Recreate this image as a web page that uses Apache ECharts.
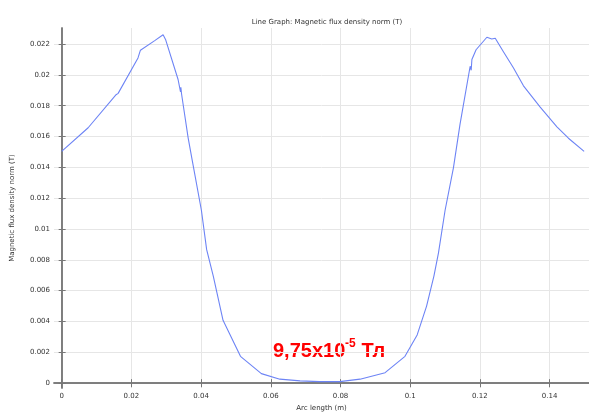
<!DOCTYPE html>
<html>
<head>
<meta charset="utf-8">
<script src="https://cdn.jsdelivr.net/npm/echarts@6/dist/echarts.min.js"></script>
<style>html,body{margin:0;padding:0;background:#fff}#c{width:589px;height:417px}</style>
</head>
<body>
<div id="c"></div>
<script>
const arcLength = [0, 0.0076, 0.0155, 0.0162, 0.0219, 0.0226, 0.0267, 0.0291, 0.0298, 0.0334, 0.0341, 0.0342, 0.0344, 0.0363, 0.0375, 0.0401, 0.0416, 0.0435, 0.0463, 0.0513, 0.0573, 0.0626, 0.0684, 0.0740, 0.0798, 0.0856, 0.0928, 0.0985, 0.1020, 0.1047, 0.1068, 0.1081, 0.1100, 0.1124, 0.1143, 0.1172, 0.1175, 0.1177, 0.1189, 0.1220, 0.1234, 0.1244, 0.1267, 0.1296, 0.1325, 0.1373, 0.1421, 0.1454, 0.1499];
const fluxNorm = [0.01504, 0.01657, 0.01869, 0.0188, 0.0211, 0.0216, 0.02222, 0.0226, 0.0223, 0.0197, 0.0189, 0.0192, 0.01876, 0.0159, 0.0144, 0.0112, 0.00866, 0.00695, 0.00408, 0.00174, 0.00062, 0.00026, 0.00015, 0.0001, 0.0001, 0.00026, 0.00068, 0.00174, 0.00313, 0.0050, 0.00695, 0.00844, 0.0112, 0.01397, 0.0168, 0.02056, 0.0203, 0.0210, 0.02163, 0.02244, 0.02233, 0.02237, 0.02152, 0.02046, 0.01929, 0.01791, 0.01663, 0.01589, 0.01504];
const xTicks = [0, 0.02, 0.04, 0.06, 0.08, 0.1, 0.12, 0.14];
const yTicks = [0, 0.002, 0.004, 0.006, 0.008, 0.01, 0.012, 0.014, 0.016, 0.018, 0.02, 0.022];
const titleText = 'Line Graph: Magnetic flux density norm (T)';
const xName = 'Arc length (m)';
const yName = 'Magnetic flux density norm (T)';

const chart = echarts.init(document.getElementById('c'), null, {renderer: 'canvas'});
const font = 'DejaVu Sans';
const axisLine = {show: true, lineStyle: {color: '#7a7a7a', width: 1.5}};
const xMin = -0.0022, xMax = 0.1513, yMin = -0.00032, yMax = 0.02304;
const splitLine = {show: true, lineStyle: {color: '#e6e6e6', width: 1}};

chart.setOption({
  animation: false,
  backgroundColor: '#fff',
  title: {text: titleText, left: 322, top: 14, textAlign: 'center',
    textStyle: {fontFamily: font, fontSize: 7, fontWeight: 'normal', color: '#333'}},
  grid: {left: 54, top: 28, right: 0, bottom: 23, containLabel: false},
  xAxis: [{
    type: 'value', min: xMin, max: xMax, position: 'bottom',
    name: xName, nameLocation: 'middle', nameGap: 14,
    nameTextStyle: {fontFamily: font, fontSize: 7, color: '#333'},
    axisLine: axisLine,
    axisTick: {show: true, inside: true, length: 4, customValues: xTicks, lineStyle: {color: '#777'}},
    axisLabel: {show: true, customValues: xTicks, fontFamily: font, fontSize: 7, color: '#333', margin: 5},
    splitLine: splitLine
  }, {
    type: 'value', min: xMin, max: xMax, position: 'top',
    axisLine: {show: true, lineStyle: {color: '#777', width: 1.5}},
    axisTick: {show: true, inside: true, length: 4, customValues: xTicks, lineStyle: {color: '#777'}},
    axisLabel: {show: false}, splitLine: {show: false}
  }],
  yAxis: [{
    type: 'value', min: yMin, max: yMax, position: 'left',
    name: yName, nameLocation: 'middle', nameGap: 38, nameRotate: 90,
    nameTextStyle: {fontFamily: font, fontSize: 7, color: '#333'},
    axisLine: axisLine,
    axisTick: {show: true, inside: true, length: 4, customValues: yTicks, lineStyle: {color: '#777'}},
    axisLabel: {show: true, customValues: yTicks, fontFamily: font, fontSize: 7, color: '#333', margin: 4},
    splitLine: splitLine
  }, {
    type: 'value', min: yMin, max: yMax, position: 'right',
    axisLine: {show: true, lineStyle: {color: '#777', width: 1.5}},
    axisTick: {show: true, inside: true, length: 3, customValues: yTicks, lineStyle: {color: '#777'}},
    axisLabel: {show: false}, splitLine: {show: false}
  }],
  series: [{
    type: 'line', xAxisIndex: 0, yAxisIndex: 0,
    data: arcLength.map((x, i) => [x, fluxNorm[i]]),
    showSymbol: false, symbol: 'none',
    lineStyle: {color: '#6d84f5', width: 1.1},
    clip: true
  }],
  graphic: [
    {type: 'text', left: 273, top: 341, style: {text: '9,75x10', font: 'bold 20px "Liberation Sans"', fill: '#ff0000'}},
    {type: 'text', left: 345, top: 338, style: {text: '-5', font: 'bold 12px "Liberation Sans"', fill: '#ff0000'}},
    {type: 'text', left: 356, top: 341, style: {text: ' Тл', font: 'bold 20px "Liberation Sans"', fill: '#ff0000'}}
  ]
});
</script>
</body>
</html>
